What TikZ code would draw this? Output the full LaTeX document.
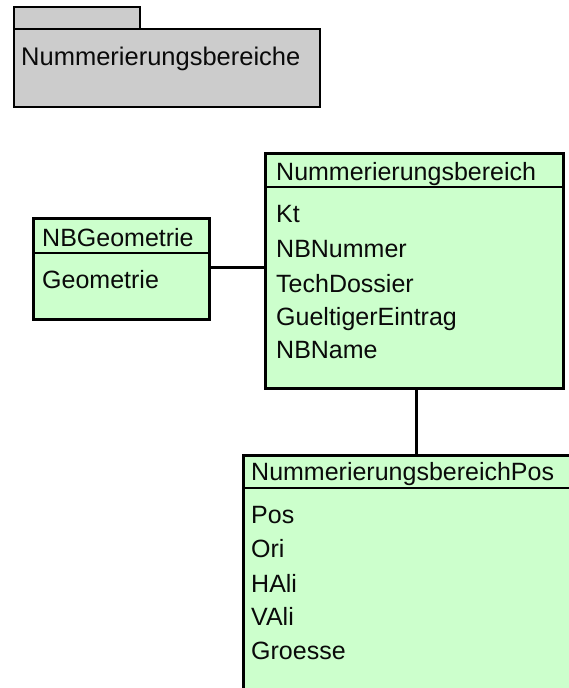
\documentclass[tikz,border=0pt]{standalone}
\usepackage{fontspec}
\setmainfont{Liberation Sans}
\definecolor{clsgreen}{HTML}{CCFFCC}
\definecolor{pkggray}{HTML}{CCCCCC}
\definecolor{txt}{HTML}{0A0A0A}
\begin{document}
\begin{tikzpicture}[x=1pt,y=-1pt,
  box/.style={draw=black, anchor=north west, inner sep=0pt, outer sep=0pt},
  cls/.style={box, fill=clsgreen, line width=3pt},
  pkg/.style={box, fill=pkggray, line width=2pt},
  lbl/.style={anchor=base west, inner sep=0pt, text=txt, font=\fontsize{25}{30}\selectfont},
  sep/.style={line width=2.2pt},
  conn/.style={line width=3pt}]
\useasboundingbox (0,0) rectangle (569,688);
\clip (0,0) rectangle (569,688);
% package
\node[pkg, minimum width=126pt, minimum height=22pt] (tab) at (14,7) {};
\node[pkg, minimum width=306pt, minimum height=78pt] (pk) at (14,29) {};
\node[lbl, font=\fontsize{25.5}{30}\selectfont] (pkt) at (21,65) {Nummerierungsbereiche};
% NBGeometrie
\node[cls, minimum width=176pt, minimum height=101pt] (geo) at (33,218) {};
\draw[sep] (33,253) coordinate (g1) -- (209,253) coordinate (g2);
\node[lbl] (geoh) at (42,246) {NBGeometrie};
\node[lbl] (geoa) at (42,288) {Geometrie};
% Nummerierungsbereich
\node[cls, minimum width=298pt, minimum height=235pt] (nb) at (265,153) {};
\draw[sep] (265,187) coordinate (n1) -- (563,187) coordinate (n2);
\node[lbl] (nbh) at (276,180) {Nummerierungsbereich};
\node[lbl] (nb1) at (276,222) {Kt};
\node[lbl] (nb2) at (276,257) {NBNummer};
\node[lbl] (nb3) at (276,292) {TechDossier};
\node[lbl] (nb4) at (276,325) {GueltigerEintrag};
\node[lbl] (nb5) at (276,358) {NBName};
% NummerierungsbereichPos
\node[cls, minimum width=360pt, minimum height=280pt] (pos) at (243,455) {};
\draw[sep] (243,488) coordinate (p1) -- (620,488) coordinate (p2);
\node[lbl] (posh) at (251,480) {NummerierungsbereichPos};
\node[lbl] (pos1) at (251,523) {Pos};
\node[lbl] (pos2) at (251,557) {Ori};
\node[lbl] (pos3) at (251,592) {HAli};
\node[lbl] (pos4) at (251,625) {VAli};
\node[lbl] (pos5) at (251,659) {Groesse};
% connectors
\coordinate (cgeo) at ([yshift=1pt]geo.east);
\draw[conn] (cgeo) -- (cgeo -| nb.west);
\coordinate (cnb) at ([xshift=2pt]nb.south);
\draw[conn] (cnb) -- (cnb |- pos.north);
\end{tikzpicture}
\end{document}
